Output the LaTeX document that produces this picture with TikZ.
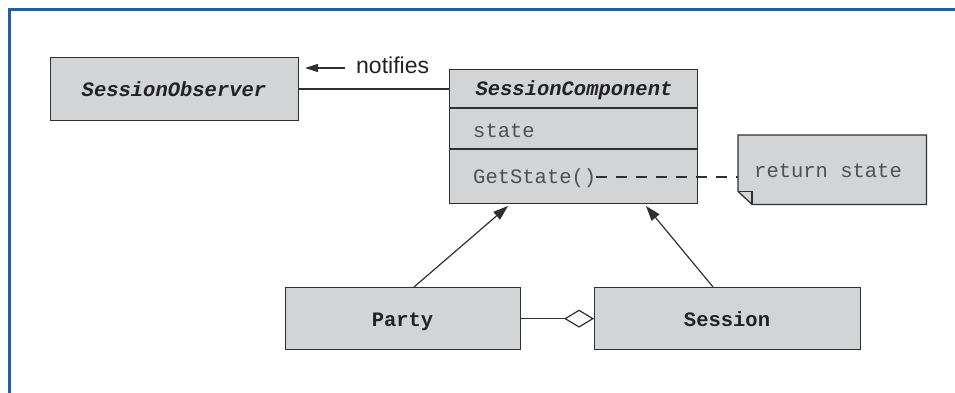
\documentclass[tikz,border=0pt]{standalone}
\usepackage{fontspec}
\setmainfont{Liberation Sans}
\setmonofont{Liberation Mono}
\usetikzlibrary{arrows.meta}
\definecolor{frameblue}{HTML}{1F5FA8}
\definecolor{boxfill}{HTML}{D3D4D6}
\definecolor{boxline}{HTML}{303030}
\definecolor{inktext}{HTML}{222222}
\definecolor{softtext}{HTML}{505050}
\begin{document}
\begin{tikzpicture}[x=1pt,y=-1pt,
  cls/.style={draw=boxline, fill=boxfill, line width=1.3pt, inner sep=0pt},
  clsname/.style={font=\fontsize{20.5}{24}\selectfont\ttfamily\bfseries, text=inktext, inner sep=0pt, anchor=base},
  absname/.style={font=\fontsize{20.5}{24}\selectfont\ttfamily\bfseries\itshape, text=inktext, inner sep=0pt, anchor=base},
  member/.style={font=\fontsize{20.5}{24}\selectfont\ttfamily, text=softtext, inner sep=0pt, anchor=base west},
  link/.style={draw=boxline, line width=1.2pt},
  gen/.style={link, -{Triangle[length=15pt,width=10pt]}},
]
\useasboundingbox (0,0) rectangle (955,393);

% frame
\draw[frameblue, line width=3pt] (9.5,393) -- (9.5,9.5) -- (955,9.5);

% SessionObserver
\node[cls, minimum width=248pt, minimum height=63pt, anchor=north west] (obs) at (50,57) {};
\node[absname] (obsname) at (174,97) {SessionObserver};

% SessionComponent with its three compartments
\node[cls, minimum width=248pt, minimum height=134pt, anchor=north west] (comp) at (449,69) {};
\node[absname] (compname) at (574,96) {SessionComponent};
\draw[link] (comp.west |- 0,108) -- (comp.east |- 0,108);
\draw[link] (comp.west |- 0,149) -- (comp.east |- 0,149);
\node[member] (state) at (473,137) {state};
\node[member] (getstate) at (473,183) {GetState()};

% note with folded corner
\node[inner sep=0pt, minimum width=188pt, minimum height=69pt, anchor=north west] (note) at (738,135) {};
\draw[cls] (note.north west) -- (note.north east) -- (note.south east)
  -- ([xshift=14pt]note.south west) -- ([yshift=13pt]note.south west) -- cycle;
\draw[draw=boxline, line width=1.1pt] ([yshift=13pt]note.south west) -- ([xshift=14pt,yshift=13pt]note.south west) -- ([xshift=14pt]note.south west);
\node[member] (notetext) at (754,177) {return state};

% Party and Session
\node[cls, minimum width=235pt, minimum height=62pt, anchor=north west] (party) at (285,287) {};
\node[clsname] (partyname) at (402.5,326) {Party};
\node[cls, minimum width=266pt, minimum height=62pt, anchor=north west] (session) at (594,287) {};
\node[clsname] (sessionname) at (727,326) {Session};

% connectors
\draw[link] (obs.east |- 0,89) -- (comp.west |- 0,89);
\coordinate (notifytip) at (305,68);
\coordinate (notifytail) at (345,68);
\draw[link, -{Triangle[length=13pt,width=8pt]}] (notifytail) -- (notifytip);
\node[font=\fontsize{23}{27}\selectfont, text=inktext, anchor=base west, inner sep=0pt] (notifies) at (356,74) {notifies};

\draw[link, dash pattern=on 11pt off 9pt] (getstate.east |- 0,177) -- (note.west |- 0,177);

\coordinate (partytop) at (414,287);
\coordinate (sessiontop) at (713,287);
\coordinate (lefttip) at (508,206);
\coordinate (righttip) at (646,206);
\draw[gen] (partytop) -- (lefttip);
\draw[gen] (sessiontop) -- (righttip);

\draw[link, -{Diamond[fill=white,length=30pt,width=18pt]}] (party.east) -- (session.west);
\end{tikzpicture}
\end{document}
